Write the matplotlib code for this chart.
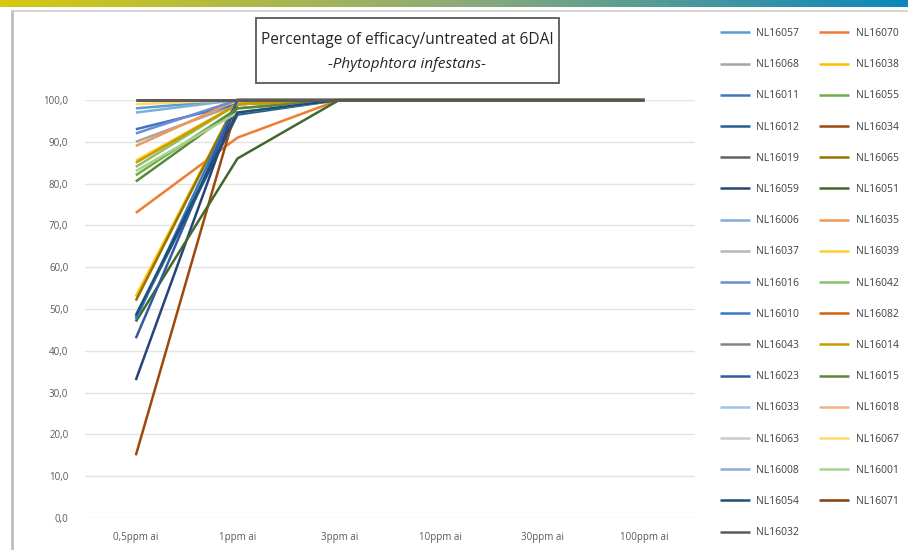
import numpy as np
import matplotlib
matplotlib.use("Agg")
import matplotlib.pyplot as plt
from matplotlib.lines import Line2D
from matplotlib.patches import Rectangle
from matplotlib.colors import LinearSegmentedColormap

plt.rcParams['font.family'] = ['Open Sans', 'DejaVu Sans']

categories = ["0,5ppm ai", "1ppm ai", "3ppm ai", "10ppm ai", "30ppm ai", "100ppm ai"]
y_ticks = [0, 10, 20, 30, 40, 50, 60, 70, 80, 90, 100]

series_names = ["NL16057", "NL16070", "NL16068", "NL16038", "NL16011", "NL16055",
                "NL16012", "NL16034", "NL16019", "NL16065", "NL16059", "NL16051",
                "NL16006", "NL16035", "NL16037", "NL16039", "NL16016", "NL16042",
                "NL16010", "NL16082", "NL16043", "NL16014", "NL16023", "NL16015",
                "NL16033", "NL16018", "NL16063", "NL16067", "NL16008", "NL16001",
                "NL16054", "NL16071", "NL16032"]

NL16057 = [98, 100, 100, 100, 100, 100]
NL16070 = [73, 91, 100, 100, 100, 100]
NL16068 = [90, 99, 100, 100, 100, 100]
NL16038 = [53, 100, 100, 100, 100, 100]
NL16011 = [93, 99, 100, 100, 100, 100]
NL16055 = [82, 98, 100, 100, 100, 100]
NL16012 = [48, 96.5, 100, 100, 100, 100]
NL16034 = [15, 99, 100, 100, 100, 100]
NL16019 = [100, 100, 100, 100, 100, 100]
NL16065 = [52, 100, 100, 100, 100, 100]
NL16059 = [33, 100, 100, 100, 100, 100]
NL16051 = [47, 86, 100, 100, 100, 100]
NL16006 = [97, 100, 100, 100, 100, 100]
NL16035 = [89, 100, 100, 100, 100, 100]
NL16037 = [100, 100, 100, 100, 100, 100]
NL16039 = [85.5, 99, 100, 100, 100, 100]
NL16016 = [92, 100, 100, 100, 100, 100]
NL16042 = [84, 99, 100, 100, 100, 100]
NL16010 = [47.5, 100, 100, 100, 100, 100]
NL16082 = [100, 100, 100, 100, 100, 100]
NL16043 = [100, 100, 100, 100, 100, 100]
NL16014 = [85, 99, 100, 100, 100, 100]
NL16023 = [43, 100, 100, 100, 100, 100]
NL16015 = [80.5, 98, 100, 100, 100, 100]
NL16033 = [100, 100, 100, 100, 100, 100]
NL16018 = [100, 100, 100, 100, 100, 100]
NL16063 = [100, 100, 100, 100, 100, 100]
NL16067 = [99, 100, 100, 100, 100, 100]
NL16008 = [100, 100, 100, 100, 100, 100]
NL16001 = [83, 97, 100, 100, 100, 100]
NL16054 = [48.5, 97, 100, 100, 100, 100]
NL16071 = [100, 100, 100, 100, 100, 100]
NL16032 = [100, 100, 100, 100, 100, 100]

series_values = [NL16057, NL16070, NL16068, NL16038, NL16011, NL16055,
                 NL16012, NL16034, NL16019, NL16065, NL16059, NL16051,
                 NL16006, NL16035, NL16037, NL16039, NL16016, NL16042,
                 NL16010, NL16082, NL16043, NL16014, NL16023, NL16015,
                 NL16033, NL16018, NL16063, NL16067, NL16008, NL16001,
                 NL16054, NL16071, NL16032]

colors = ["#5B9BD5", "#ED7D31", "#A5A5A5", "#FFC000", "#4472C4", "#70AD47",
          "#255E91", "#9E480E", "#636363", "#997300", "#264478", "#43682B",
          "#7CAFDD", "#F1975A", "#B7B7B7", "#FFCD33", "#698ED0", "#8CC168",
          "#327DC2", "#D26012", "#848484", "#CC9A00", "#335AA1", "#5A8A39",
          "#9DC3E6", "#F4B183", "#C9C9C9", "#FFD966", "#8FAADC", "#A9D18E",
          "#1F4E79", "#843C0C", "#5A5A5A"]

W, H = 908, 550
fig = plt.figure(figsize=(W / 100, H / 100), dpi=100)
fig.patch.set_facecolor("white")

# top gradient bar
gax = fig.add_axes([0, 1 - 7 / H, 1, 7 / H])
cmap = LinearSegmentedColormap.from_list("g", ["#D6C90E", "#8EAB78", "#0B87BC"])
gax.imshow(np.linspace(0, 1, 256)[None, :], aspect="auto", cmap=cmap)
gax.axis("off")

# frame lines
fig.add_artist(Line2D([12 / W, 12 / W], [0, 1 - 11 / H], color="#BDBDBD", lw=2.0))
fig.add_artist(Line2D([12 / W, 1], [1 - 11 / H, 1 - 11 / H], color="#D0D0D0", lw=1.2))

ax = fig.add_axes([85 / W, 32 / H, 610 / W, 418 / H])
x = np.arange(len(categories))
handles = []
for name, vals, c in zip(series_names, series_values, colors):
    h, = ax.plot(x, vals, color=c, lw=1.8, label=name, clip_on=False, solid_capstyle="butt")
    handles.append(h)

ax.set_xlim(-0.5, len(categories) - 0.5)
ax.set_ylim(0, 100)
ax.set_yticks(y_ticks)
ax.set_yticklabels([f"{v:.1f}".replace(".", ",") for v in y_ticks], fontsize=7, color="#595959")
ax.set_xticks(x)
ax.set_xticklabels(categories, fontsize=7, color="#595959")
ax.tick_params(axis="y", length=0, pad=12)
ax.tick_params(axis="x", length=0, pad=10)
ax.grid(axis="y", color="#E3E3E3", lw=1.0)
ax.set_axisbelow(True)
for s in ax.spines.values():
    s.set_visible(False)

# title box
fig.add_artist(Rectangle((256 / W, 1 - 83 / H), 303 / W, 65 / H, transform=fig.transFigure,
                         facecolor="white", edgecolor="#595959", lw=1.3))
fig.text(407 / W, 1 - 40 / H, "Percentage of efficacy/untreated at 6DAI", ha="center", va="center",
         fontsize=11.2, color="#262626")
fig.text(407 / W, 1 - 65 / H, "-Phytophtora infestans-", ha="center", va="center",
         fontsize=11, color="#262626", style="italic")

# legend (row-wise order as in original)
order = list(range(0, len(handles), 2)) + list(range(1, len(handles), 2))
leg = fig.legend([handles[i] for i in order], [series_names[i] for i in order],
                 ncol=2, loc="upper left", bbox_to_anchor=(720 / W, 1 - 28 / H),
                 frameon=False, fontsize=7.5, labelspacing=1.94, handlelength=2.9,
                 handletextpad=0.6, columnspacing=1.9, borderaxespad=0, borderpad=0)
for t in leg.get_texts():
    t.set_color("#404040")

fig.savefig("out.png", dpi=100)
